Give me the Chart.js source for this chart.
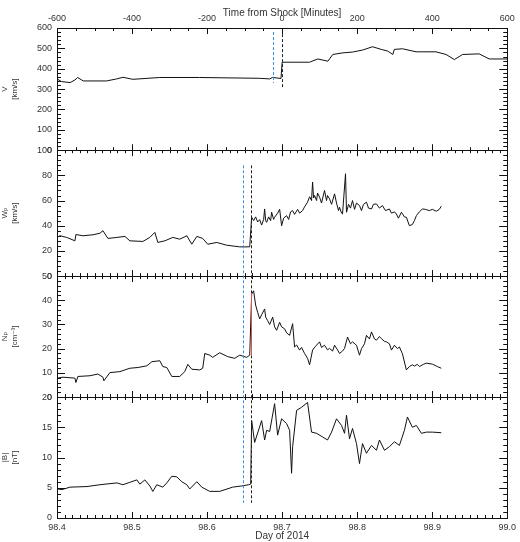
<!DOCTYPE html>
<html lang="en">
<head>
<meta charset="UTF-8">
<title>Solar wind around the shock, day 98 of 2014</title>
<style>
  body { margin: 0; background: #fff; }
  #shockChart { display: block; }
</style>
</head>
<body>
<canvas id="shockChart" width="520" height="542"></canvas>
<script src="https://cdn.jsdelivr.net/npm/chart.js"></script>
<script>

// top panel: bulk speed against minutes from the shock
const speedMinutes = [-600, -588, -565, -552, -545, -530, -468, -441, -424, -398, -326, -220, -60, -33, -25, -16, -3,
    0, 73, 95, 122, 135, 162, 188, 215, 241, 264, 281, 295, 299, 321, 357, 410, 437, 459, 481, 525, 552, 600];
const speedValues = [350, 337, 332, 345, 357, 340, 340, 350, 358, 348, 357, 357, 353, 350, 358, 355, 352,
    432, 432, 448, 437, 470, 478, 482, 492, 508, 495, 487, 470, 495, 498, 483, 483, 470, 445, 470, 473, 448, 448];

// second panel: thermal speed against day of 2014
const thermalDays = [98.4000, 98.4040, 98.4129, 98.4239, 98.4252, 98.4346, 98.4479, 98.4572, 98.4612, 98.4679,
    98.4798, 98.4905, 98.4971, 98.5144, 98.5237, 98.5304, 98.5344, 98.5437, 98.5543, 98.5636, 98.5730, 98.5796,
    98.5863, 98.5942, 98.6009, 98.6129, 98.6262, 98.6435, 98.6568,
    98.6594, 98.6620, 98.6647, 98.6674, 98.6701, 98.6727, 98.6754, 98.6767, 98.6781, 98.6794, 98.6820, 98.6847,
    98.6860, 98.6887, 98.6900, 98.6940, 98.6967, 98.6993, 98.7020, 98.7060, 98.7087, 98.7113, 98.7140, 98.7166,
    98.7206, 98.7233, 98.7273, 98.7299, 98.7339, 98.7366, 98.7392, 98.7406, 98.7419, 98.7432, 98.7459, 98.7472,
    98.7499, 98.7525, 98.7565, 98.7592, 98.7605, 98.7632, 98.7659, 98.7699, 98.7725, 98.7752, 98.7765, 98.7792,
    98.7805, 98.7845, 98.7858, 98.7885, 98.7911, 98.7938, 98.7965, 98.7991, 98.8031, 98.8058, 98.8084, 98.8124,
    98.8151, 98.8191, 98.8217, 98.8257, 98.8297, 98.8337, 98.8377, 98.8430, 98.8457, 98.8497, 98.8523, 98.8550,
    98.8590, 98.8630, 98.8656, 98.8696, 98.8736, 98.8763, 98.8789, 98.8829, 98.8869, 98.8909, 98.8962, 98.9002,
    98.9055, 98.9095, 98.9121];
const thermalValues = [30.7, 32, 30.7, 28, 33, 32, 32.8, 34, 36, 29.9,
    30.7, 31.5, 28, 27.5, 30.7, 34.7, 26.7, 28, 30.7, 29.3, 32, 25.3,
    31.5, 29.9, 25.3, 26.7, 24.5, 23.2, 23.2,
    46.7, 44, 47, 43, 44.8, 40.5, 45, 53.3, 44, 42.7, 47, 44,
    50.7, 45, 46.7, 50, 53, 40, 46, 48, 45, 51, 52, 49,
    53, 50, 52, 55, 58.7, 63, 60, 74.7, 62, 64, 60, 66,
    62.7, 58, 68, 60, 64, 61.3, 57, 65.3, 58, 52, 54.7, 50,
    49.3, 81.3, 50.7, 57, 54, 60, 53, 58, 56, 52, 57, 58.7,
    54, 53.3, 57, 57.3, 54, 56, 52, 53.3, 50, 51, 49.3, 46,
    50.7, 47, 46.7, 40, 41, 44, 48, 51, 53.3, 53, 52, 53,
    51.5, 53, 55.5];

// third panel: proton density
const densityDays = [98.4000, 98.4080, 98.4239, 98.4252, 98.4279, 98.4439, 98.4545, 98.4612, 98.4625, 98.4705,
    98.4838, 98.4971, 98.5078, 98.5197, 98.5264, 98.5370, 98.5410, 98.5463, 98.5530, 98.5636, 98.5703, 98.5743,
    98.5796, 98.5902, 98.5942, 98.5969, 98.6035, 98.6075, 98.6168, 98.6275, 98.6368, 98.6435, 98.6528, 98.6568,
    98.6594, 98.6620, 98.6647, 98.6674, 98.6701, 98.6727, 98.6767, 98.6781, 98.6807, 98.6834, 98.6874, 98.6900,
    98.6927, 98.6967, 98.6993, 98.7033, 98.7060, 98.7100, 98.7140, 98.7166, 98.7193, 98.7233, 98.7259, 98.7299,
    98.7339, 98.7366, 98.7406, 98.7446, 98.7499, 98.7525, 98.7565, 98.7605, 98.7632, 98.7672, 98.7699, 98.7738,
    98.7765, 98.7805, 98.7832, 98.7872, 98.7911, 98.7938, 98.7991, 98.8031, 98.8058, 98.8098, 98.8124, 98.8164,
    98.8191, 98.8231, 98.8257, 98.8297, 98.8324, 98.8364, 98.8390, 98.8430, 98.8457, 98.8497, 98.8537, 98.8563,
    98.8603, 98.8656, 98.8696, 98.8736, 98.8763, 98.8803, 98.8829, 98.8882, 98.8922, 98.9002, 98.9068, 98.9121];
const densityValues = [7.8, 8.2, 7.8, 6.0, 8.5, 8.8, 9.5, 8.2, 6.7, 10.1,
    10.5, 11.9, 12.2, 12.9, 14.6, 15, 12.6, 12.2, 8.5, 8.5, 10.5, 13.5,
    11.5, 11.2, 11.9, 18, 17.3, 16.4, 18.3, 16.7, 16, 17.3, 16.4, 17.3,
    42.5, 43.9, 38, 35, 32.3, 34, 36.4, 33, 31.6, 30, 33, 29,
    27.6, 30.9, 29, 28.2, 26.5, 25.5, 30.3, 20.7, 21.5, 19.4, 20.5, 18,
    16, 13.3, 19.4, 21, 22.8, 20.5, 21.4, 19.5, 20.1, 19, 21.4, 19.5,
    18, 19, 20.1, 24.8, 22, 22.8, 21.4, 17.3, 20, 22, 25.5, 24,
    26.9, 24, 23.5, 25, 24.1, 23, 22.8, 22, 19.4, 21.4, 20, 20.7,
    17.9, 11.2, 12.6, 13.3, 12.8, 13.5, 12.6, 13.5, 14, 13.6, 12.6, 11.9];

// bottom panel: magnetic field magnitude
const fieldDays = [98.4000, 98.4067, 98.4173, 98.4399, 98.4572, 98.4798, 98.4878, 98.4971, 98.5064, 98.5104,
    98.5171, 98.5237, 98.5277, 98.5330, 98.5410, 98.5463, 98.5530, 98.5596, 98.5663, 98.5730, 98.5769, 98.5863,
    98.5929, 98.6035, 98.6168, 98.6341, 98.6461, 98.6554, 98.6581, 98.6594, 98.6634, 98.6727, 98.6767, 98.6794,
    98.6834, 98.6900, 98.6940, 98.6993, 98.7060, 98.7100, 98.7126, 98.7140, 98.7193, 98.7259, 98.7339, 98.7392,
    98.7459, 98.7539, 98.7605, 98.7659, 98.7725, 98.7792, 98.7832, 98.7858, 98.7898, 98.7938, 98.7991, 98.8031,
    98.8071, 98.8124, 98.8191, 98.8257, 98.8297, 98.8364, 98.8430, 98.8497, 98.8563, 98.8630, 98.8670, 98.8736,
    98.8789, 98.8856, 98.8922, 98.9002, 98.9121];
const fieldValues = [4.8, 4.7, 5.1, 5.2, 5.5, 5.8, 5.5, 5.9, 6.3, 5.6,
    6.3, 5.3, 4.4, 5.5, 5.1, 5.8, 6.9, 6.8, 6.0, 5.5, 4.8, 6.0,
    5.1, 4.4, 4.4, 5.1, 5.3, 5.5, 5.6, 16.1, 12.5, 16.1, 12.9, 14.5,
    14.3, 18.9, 13.7, 16.4, 15.6, 14.5, 7.4, 11.8, 17.8, 18.3, 19.1, 14.2,
    14, 13.4, 12.9, 14.2, 16.4, 15.3, 14, 17, 13.1, 14.8, 12.3, 9,
    12.3, 10.7, 12, 11.2, 12.9, 11.2, 11.8, 12.6, 12, 14.5, 16.7, 15,
    15.3, 14, 14.2, 14.2, 14.1];

// dashed markers: [upstream edge, shock]
const shockMinutes = [-25, 0];
const shockDays = [98.648, 98.658];

const toPoints = (xs, ys) => xs.map((x, i) => ({ x: x, y: ys[i] }));

Chart.defaults.font.family = "'Liberation Sans', 'DejaVu Sans', sans-serif";
Chart.defaults.font.size = 9;
Chart.defaults.color = '#333';

// tick spacing for the drawn frames
const panels = [
    { id: 'yV', xs: 'x2', yMinor: 20, yMajor: 100, xMinor: 50, xMajor: 200 },
    { id: 'yW', xs: 'x', yMinor: 4, yMajor: 20, xMinor: 0.01, xMajor: 0.1 },
    { id: 'yN', xs: 'x', yMinor: 2, yMajor: 10, xMinor: 0.01, xMajor: 0.1 },
    { id: 'yB', xs: 'x', yMinor: 1, yMajor: 5, xMinor: 0.01, xMajor: 0.1 }
];

function eachTick(min, max, minor, major, fn) {
    const n = Math.round((max - min) / minor);
    for (let i = 0; i <= n; i++) {
        const v = min + i * minor;
        const r = v / major;
        fn(v, Math.abs(r - Math.round(r)) < 1e-6);
    }
}

const framePlugin = {
    id: 'framePlugin',
    afterDatasetsDraw(chart) {
        const ctx = chart.ctx;
        const left = chart.chartArea.left, right = chart.chartArea.right;
        ctx.save();
        ctx.strokeStyle = '#111';
        ctx.lineWidth = 1;
        panels.forEach(p => {
            const ys = chart.scales[p.id];
            const xs = chart.scales[p.xs];
            const top = ys.top, bottom = ys.bottom;
            ctx.strokeRect(Math.round(left) + 0.5, Math.round(top) + 0.5, Math.round(right - left), Math.round(bottom - top));
            ctx.beginPath();
            eachTick(ys.min, ys.max, p.yMinor, p.yMajor, (v, major) => {
                const y = Math.round(ys.getPixelForValue(v)) + 0.5;
                const len = major ? 8 : 4;
                ctx.moveTo(left, y); ctx.lineTo(left + len, y);
                ctx.moveTo(right, y); ctx.lineTo(right - len, y);
            });
            eachTick(xs.min, xs.max, p.xMinor, p.xMajor, (v, major) => {
                const x = Math.round(xs.getPixelForValue(v)) + 0.5;
                const len = major ? 6 : 3;
                ctx.moveTo(x, top); ctx.lineTo(x, top + len);
                ctx.moveTo(x, bottom); ctx.lineTo(x, bottom - len);
            });
            ctx.stroke();
        });

        // dashed shock markers
        const sV = chart.scales.yV, sW = chart.scales.yW, sN = chart.scales.yN, sB = chart.scales.yB;
        const x2 = chart.scales.x2, x = chart.scales.x;
        ctx.setLineDash([3, 2]);
        const vline = (px, y0, y1, color) => {
            ctx.strokeStyle = color;
            ctx.beginPath();
            ctx.moveTo(Math.round(px) + 0.5, y0);
            ctx.lineTo(Math.round(px) + 0.5, y1);
            ctx.stroke();
        };
        vline(x2.getPixelForValue(shockMinutes[0]), sV.getPixelForValue(580), sV.getPixelForValue(330), '#3d8fe0');
        vline(x2.getPixelForValue(shockMinutes[1]), sV.getPixelForValue(570), sV.getPixelForValue(305), '#222');
        vline(x.getPixelForValue(shockDays[0]), sW.getPixelForValue(88), sB.getPixelForValue(2.5), '#3d8fe0');
        vline(x.getPixelForValue(shockDays[1]), sW.getPixelForValue(88), sB.getPixelForValue(2.5), '#222');
        ctx.setLineDash([]);
        vline(x.getPixelForValue(shockDays[1]), sN.getPixelForValue(43), sN.getPixelForValue(17), '#d9534f');
        ctx.restore();
    }
};

function yScale(min, max, step, title, weight) {
    return {
        type: 'linear', position: 'left', stack: 'panels', stackWeight: weight,
        min: min, max: max,
        grid: { display: false, drawTicks: false },
        border: { display: false },
        ticks: { stepSize: step, autoSkip: false, padding: 5 },
        title: { display: true, text: title, padding: { top: 0, bottom: 2 }, font: { size: 8 } },
        afterFit: s => { s.width = 57; }
    };
}

function line(points, xAxis, yAxis) {
    return {
        data: points, xAxisID: xAxis, yAxisID: yAxis,
        borderColor: '#111', borderWidth: 1, pointRadius: 0, tension: 0
    };
}

new Chart(document.getElementById('shockChart'), {
    type: 'line',
    data: {
        datasets: [
            line(toPoints(speedMinutes, speedValues), 'x2', 'yV'),
            line(toPoints(thermalDays, thermalValues), 'x', 'yW'),
            line(toPoints(densityDays, densityValues), 'x', 'yN'),
            line(toPoints(fieldDays, fieldValues), 'x', 'yB')
        ]
    },
    options: {
        responsive: false,
        animation: false,
        layout: { padding: { left: 0, right: 12, top: 0, bottom: 0 } },
        plugins: { legend: { display: false }, tooltip: { enabled: false } },
        scales: {
            x: {
                type: 'linear', position: 'bottom', min: 98.4, max: 99.0,
                grid: { display: false, drawTicks: false },
                border: { display: false },
                ticks: { stepSize: 0.1, autoSkip: false, maxRotation: 0, padding: 4, callback: v => v.toFixed(1) },
                title: { display: true, text: 'Day of 2014', padding: { top: 0, bottom: 0 }, font: { size: 10 } },
                afterFit: s => { s.height = 24; }
            },
            x2: {
                type: 'linear', position: 'top', min: -600, max: 600,
                grid: { display: false, drawTicks: false },
                border: { display: false },
                ticks: { stepSize: 200, autoSkip: false, maxRotation: 0, padding: 4 },
                title: { display: true, text: 'Time from Shock [Minutes]', padding: { top: 7, bottom: 0 }, font: { size: 10 } },
                afterFit: s => { s.height = 28; }
            },
            yB: yScale(0, 20, 5, ['|B|', '[nT]'], 0.99),
            yN: yScale(0, 50, 10, ['Nₚ', '[cm⁻³]'], 0.99),
            yW: yScale(0, 100, 20, ['Wₚ', '[km/s]'], 1.03),
            yV: yScale(0, 600, 100, ['V', '[km/s]'], 1.0)
        }
    },
    plugins: [framePlugin]
});

</script>
</body>
</html>
